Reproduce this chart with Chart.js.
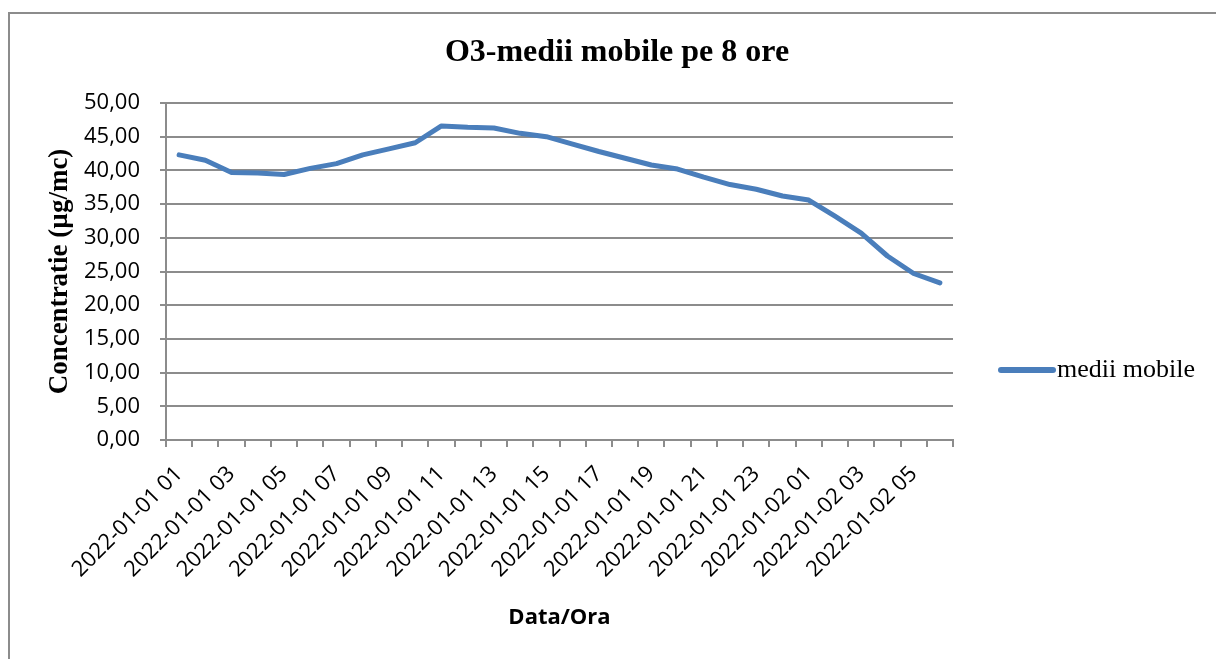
<!DOCTYPE html>
<html>
<head>
<meta charset="utf-8">
<script src="https://cdn.jsdelivr.net/npm/chart.js@4/dist/chart.umd.min.js"></script>
<style>
  body { margin: 0; background: #fff; }
  #wrap { position: relative; width: 1216px; height: 659px; overflow: hidden; }
  #frame { position: absolute; left: 8px; top: 12px; width: 1300px; height: 700px;
           border-top: 2px solid #8c8c8c; border-left: 2px solid #8c8c8c; }
  canvas { position: absolute; left: 0; top: 0; }
</style>
</head>
<body>
<div id="wrap">
  <div id="frame"></div>
  <canvas id="chartO3" width="1216" height="659"></canvas>
</div>
<script>
// --- DATE ---
const ore = [
    '2022-01-01 01', '2022-01-01 02', '2022-01-01 03', '2022-01-01 04', '2022-01-01 05',
    '2022-01-01 06', '2022-01-01 07', '2022-01-01 08', '2022-01-01 09', '2022-01-01 10',
    '2022-01-01 11', '2022-01-01 12', '2022-01-01 13', '2022-01-01 14', '2022-01-01 15',
    '2022-01-01 16', '2022-01-01 17', '2022-01-01 18', '2022-01-01 19', '2022-01-01 20',
    '2022-01-01 21', '2022-01-01 22', '2022-01-01 23', '2022-01-02 00', '2022-01-02 01',
    '2022-01-02 02', '2022-01-02 03', '2022-01-02 04', '2022-01-02 05', '2022-01-02 06'
];
const mediiMobile = [
    42.3, 41.5, 39.7, 39.6, 39.4, 40.3, 41.0, 42.3, 43.2, 44.1,
    46.6, 46.4, 46.3, 45.5, 45.0, 43.9, 42.8, 41.8, 40.8, 40.2,
    39.0, 37.9, 37.2, 36.2, 35.6, 33.2, 30.7, 27.3, 24.7, 23.3
];
const yMin = 0, yMax = 50, yPas = 5;

const TITLU = 'O3-medii mobile pe 8 ore';
const TITLU_Y = 'Concentratie (µg/mc)';
const TITLU_X = 'Data/Ora';
const SERIE = 'medii mobile';

const GRI = '#8c8c8c';
const ALBASTRU = '#4a7ebb';

Chart.defaults.font.family = 'Open Sans';
Chart.defaults.color = '#000';

// titlu + legenda desenate direct pe canvas
const decor = {
    id: 'decor',
    afterDraw(chart) {
        const ctx = chart.ctx;
        ctx.save();
        ctx.fillStyle = '#000';
        ctx.font = 'bold 32px "Liberation Serif"';
        ctx.textAlign = 'center';
        ctx.textBaseline = 'middle';
        ctx.fillText(TITLU, 617, 53);

        // legenda
        ctx.strokeStyle = ALBASTRU;
        ctx.lineWidth = 6;
        ctx.lineCap = 'round';
        ctx.beginPath();
        ctx.moveTo(1001, 370);
        ctx.lineTo(1053, 370);
        ctx.stroke();
        ctx.font = '26px "Liberation Serif"';
        ctx.textAlign = 'left';
        ctx.fillText(chart.data.datasets[0].label, 1057, 370);
        ctx.restore();
    }
};

new Chart(document.getElementById('chartO3'), {
    type: 'line',
    data: {
        labels: ore,
        datasets: [{
            label: SERIE,
            data: mediiMobile,
            borderColor: ALBASTRU,
            borderWidth: 5,
            borderJoinStyle: 'round',
            borderCapStyle: 'round',
            pointRadius: 0,
            tension: 0,
            fill: false
        }]
    },
    options: {
        responsive: false,
        animation: false,
        devicePixelRatio: 1,
        layout: { padding: { left: 0, top: 103, right: 263, bottom: 0 } },
        plugins: {
            legend: { display: false },
            title: { display: false },
            tooltip: { enabled: false }
        },
        scales: {
            x: {
                type: 'category',
                offset: true,
                afterFit: (s) => { s.height = 219; },
                border: { display: true, color: GRI, width: 2 },
                grid: { offset: true, drawOnChartArea: false, color: GRI, lineWidth: 2, tickLength: 7 },
                ticks: {
                    autoSkip: false,
                    minRotation: 45,
                    maxRotation: 45,
                    padding: 14,
                    font: { size: 22 },
                    callback: (v, i) => (i % 2 === 0 ? ore[i] : '')
                },
                title: {
                    display: true,
                    text: TITLU_X,
                    font: { size: 22, weight: 'bold' },
                    padding: { top: 0, bottom: 28 }
                }
            },
            y: {
                min: yMin,
                max: yMax,
                afterFit: (s) => { s.width = 166; },
                border: { display: true, color: GRI, width: 2 },
                grid: { color: GRI, lineWidth: 2, tickLength: 6 },
                ticks: {
                    stepSize: yPas,
                    padding: 20,
                    font: { size: 22 },
                    callback: (v) => v.toFixed(2).replace('.', ',')
                },
                title: {
                    display: true,
                    text: TITLU_Y,
                    font: { family: 'Liberation Serif', size: 27, weight: 'bold' },
                    padding: { top: 44, bottom: 0 }
                }
            }
        }
    },
    plugins: [decor]
});
</script>
</body>
</html>
